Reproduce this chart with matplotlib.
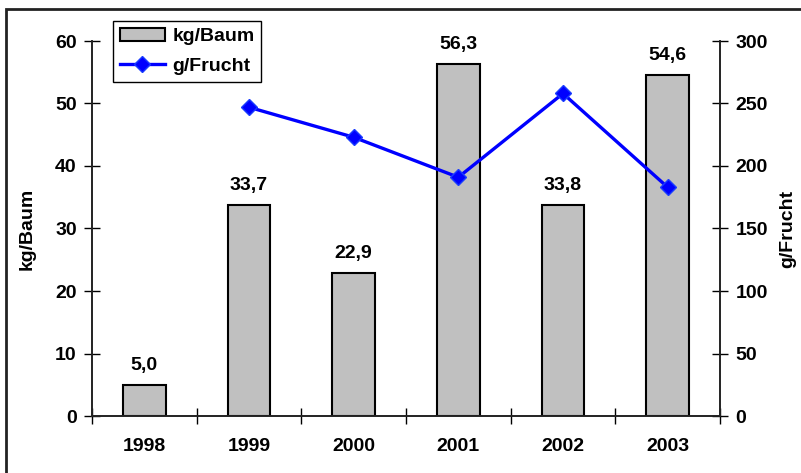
import matplotlib.pyplot as plt
from matplotlib.patches import Rectangle
import numpy as np

plt.rcParams['font.family'] = ['Liberation Sans', 'DejaVu Sans']
plt.rcParams['font.weight'] = 'bold'

# data
years = ['1998', '1999', '2000', '2001', '2002', '2003']
kg_baum = [5.0, 33.7, 22.9, 56.3, 33.8, 54.6]
bar_labels = ['5,0', '33,7', '22,9', '56,3', '33,8', '54,6']
line_years = ['1999', '2000', '2001', '2002', '2003']
g_frucht = [247, 223, 191, 258, 183]

x = np.arange(len(years))
xl = np.array([years.index(y) for y in line_years])

fs = 14

fig = plt.figure(figsize=(8.01, 4.73), dpi=100)
ax = fig.add_axes([92 / 801, 1 - 416 / 473, (720 - 92) / 801, (416 - 41) / 473])
ax2 = ax.twinx()

bars = ax.bar(x, kg_baum, width=0.41, color='#c0c0c0', edgecolor='black', linewidth=1.5,
              label='kg/Baum', zorder=2)
for xi, v, t in zip(x, kg_baum, bar_labels):
    ax.annotate(t, (xi, v), xytext=(0, 8), textcoords='offset points',
                ha='center', va='bottom', fontsize=fs, fontweight='bold')

line, = ax2.plot(xl, g_frucht, color='#0000ff', linewidth=2.4, marker='D', markersize=8,
                 markeredgecolor='#1a3cff', label='g/Frucht', zorder=3)

ax.set_xlim(-0.5, 5.5)
ax.set_ylim(0, 60)
ax2.set_ylim(0, 300)
ax.set_yticks(np.arange(0, 61, 10))
ax2.set_yticks(np.arange(0, 301, 50))
ax.set_xticks(x)
ax.set_xticklabels(years)
ax.set_xticks(np.arange(-0.5, 6, 1), minor=True)
ax.tick_params(axis='x', which='major', length=0, pad=16, labelsize=fs)
ax.tick_params(axis='x', which='minor', direction='inout', length=12, width=1)
ax.tick_params(axis='y', direction='inout', length=12, width=1, labelsize=fs, pad=5)
ax2.tick_params(axis='y', direction='inout', length=12, width=1, labelsize=fs, pad=5)

for a in (ax, ax2):
    a.spines['top'].set_visible(False)
    for s in ('left', 'right', 'bottom'):
        a.spines[s].set_linewidth(1.2)
        a.spines[s].set_color('#222222')
ax.patch.set_visible(False)

ax.set_ylabel('kg/Baum', fontsize=fs, fontweight='bold', labelpad=14)
ax2.set_ylabel('g/Frucht', fontsize=fs, fontweight='bold', labelpad=8)

leg = fig.legend([bars, line], ['kg/Baum', 'g/Frucht'], loc='upper left',
                 bbox_to_anchor=(113 / 801, 1 - 21 / 473), bbox_transform=fig.transFigure,
                 borderaxespad=0, fontsize=fs, fancybox=False, framealpha=1,
                 edgecolor='black', handlelength=2.3, handletextpad=0.4,
                 borderpad=0.35, labelspacing=0.6)
leg.get_frame().set_linewidth(1.0)

# outer frame of the chart, cut off at right and bottom
fig.patches.append(Rectangle((6 / 801, -0.1), 1.2, 1 - 9 / 473 + 0.1,
                             transform=fig.transFigure, fill=False,
                             edgecolor='#222222', linewidth=2))

fig.savefig('out.png', dpi=100)
